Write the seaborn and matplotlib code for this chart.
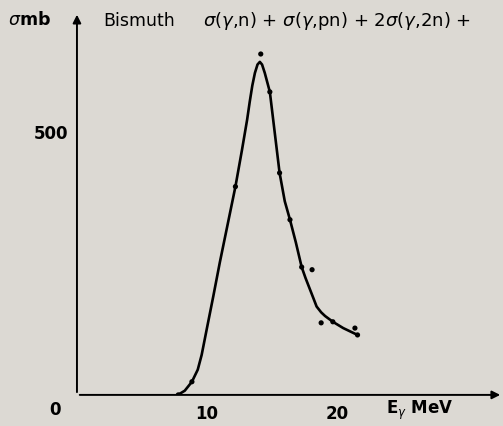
import numpy as np
import pandas as pd
import seaborn as sns
import matplotlib
matplotlib.use('Agg')
import matplotlib.pyplot as plt

### data (E in MeV, sigma in mb)
curve_e = [7.77, 8.3, 8.85, 9.3, 9.6, 10.0, 10.5, 11.0, 11.6, 12.2, 12.7,
           13.1, 13.3, 13.5, 13.7, 13.9, 14.08, 14.25, 14.46, 14.85, 15.2,
           15.6, 16.0, 16.4, 16.85, 17.3, 17.6, 17.9, 18.2, 18.45, 18.8,
           19.1, 19.7, 20.5, 21.6]
curve_sigma = [0, 8, 25, 48, 76, 126, 188, 252, 324, 396, 465,
               523, 557, 588, 612, 628, 633, 628, 612, 576, 504,
               422, 368, 333, 290, 243, 222, 203, 184, 168, 157,
               150, 139, 127, 114]

points_e = [7.8, 8.85, 12.2, 14.15, 14.85, 15.6, 16.4, 17.3, 18.1, 18.8, 19.7, 21.4, 21.6]
points_sigma = [0, 25, 396, 648, 576, 422, 333, 243, 238, 137, 139, 127, 114]

x_ticks = [10, 20]
y_ticks = [500]

bg = '#dcd9d3'
sns.set_style('white')
plt.rcParams['font.family'] = ['DejaVu Sans']
plt.rcParams['text.color'] = 'black'
plt.rcParams['xtick.color'] = 'black'
plt.rcParams['ytick.color'] = 'black'

fig = plt.figure(figsize=(5.03, 4.26), dpi=100, facecolor=bg)
ax = fig.add_axes([0.153, 0.073, 0.847, 0.899])
ax.set_facecolor(bg)

curve = pd.DataFrame({'E': curve_e, 'sigma': curve_sigma})
pts = pd.DataFrame({'E': points_e, 'sigma': points_sigma})
sns.lineplot(data=curve, x='E', y='sigma', sort=False, estimator=None,
             color='black', linewidth=1.9, ax=ax)
sns.scatterplot(data=pts, x='E', y='sigma', color='black', s=14,
                edgecolor='none', ax=ax, zorder=3)

ax.set_xlim(0, 32.8)
ax.set_ylim(0, 728)
for s in ax.spines.values():
    s.set_visible(False)

# axes drawn as arrows
ax.annotate('', xy=(1.0, 0), xytext=(0, 0), xycoords='axes fraction',
            arrowprops=dict(arrowstyle='-|>', color='black', lw=1.4,
                            mutation_scale=12))
ax.annotate('', xy=(0, 1.0), xytext=(0, 0), xycoords='axes fraction',
            arrowprops=dict(arrowstyle='-|>', color='black', lw=1.4,
                            mutation_scale=12))

ax.set_xticks(x_ticks)
ax.set_yticks(y_ticks)
ax.set_xticklabels([str(t) for t in x_ticks], fontsize=12, fontweight='bold')
ax.set_yticklabels([str(t) for t in y_ticks], fontsize=12, fontweight='bold')
ax.tick_params(axis='y', direction='in', length=5, width=1.2, pad=6)
ax.tick_params(axis='x', length=0, pad=7)
ax.set_xlabel('')
ax.set_ylabel('')

# labels
fig.text(55 / 503, 1 - 410 / 426, '0', fontsize=12, fontweight='bold',
         ha='center', va='center')
fig.text(420 / 503, 1 - 410 / 426, r'E$_\gamma$ MeV', fontsize=12,
         fontweight='bold', ha='center', va='center')
fig.text(8 / 503, 1 - 20 / 426, r'$\sigma$mb', fontsize=12.5,
         fontweight='bold', ha='left', va='center')
fig.text(103 / 503, 1 - 21 / 426, 'Bismuth', fontsize=12.5,
         ha='left', va='center')
fig.text(203 / 503, 1 - 21 / 426,
         r'$\sigma$($\gamma$,n) + $\sigma$($\gamma$,pn) + 2$\sigma$($\gamma$,2n) +',
         fontsize=13, ha='left', va='center')

plt.savefig('out.png', dpi=100, facecolor=bg)
